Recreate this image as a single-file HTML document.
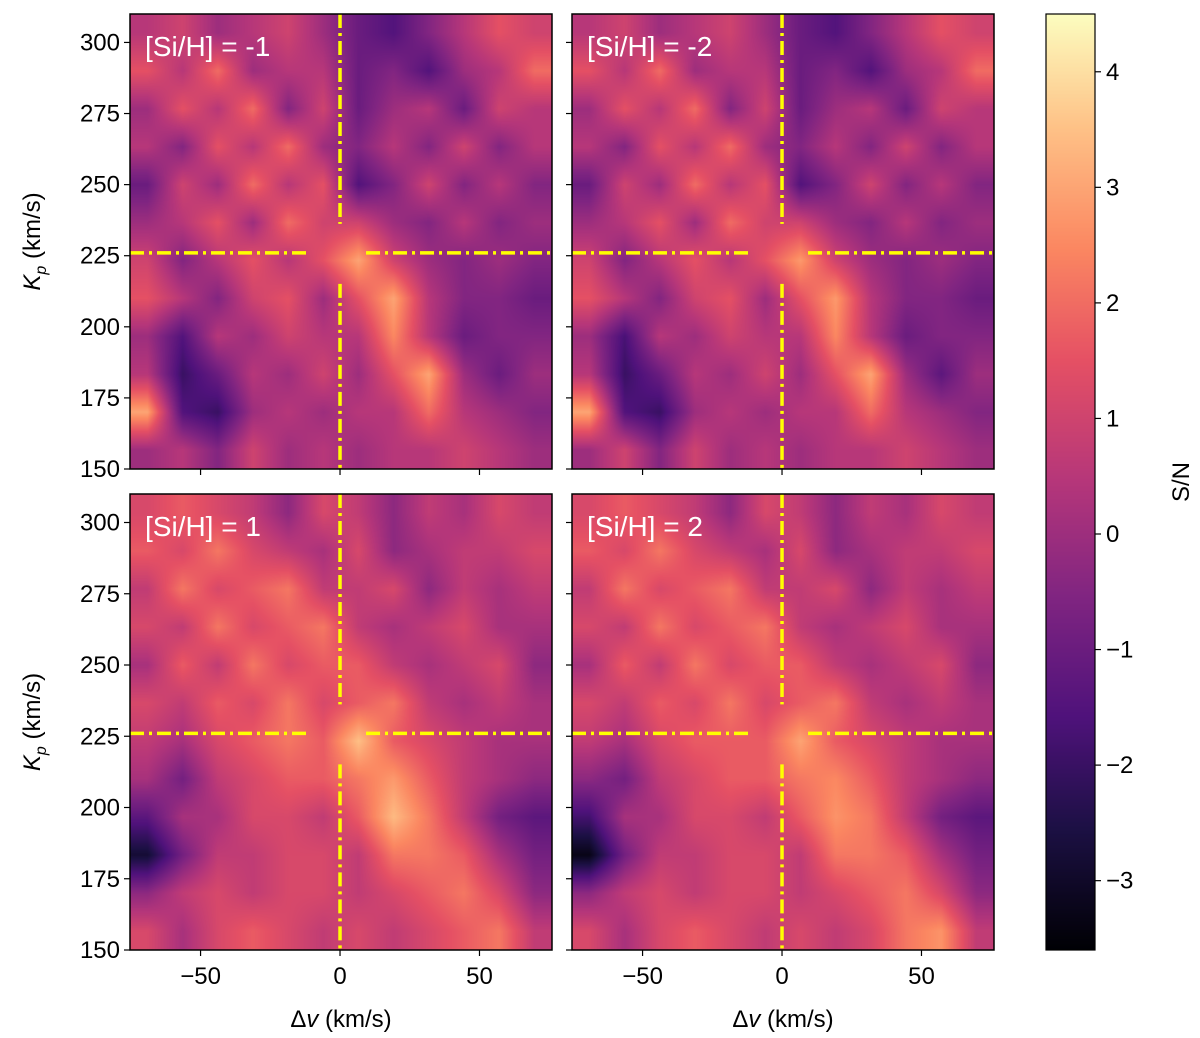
<!DOCTYPE html>
<html><head><meta charset="utf-8">
<style>
body{margin:0;width:1200px;height:1038px;background:#fff;position:relative;overflow:hidden;font-family:"Liberation Sans","DejaVu Sans",sans-serif}
canvas{position:absolute}
svg{position:absolute;left:0;top:0}
</style></head>
<body>
<canvas id="c0" width="422" height="455" style="left:130px;top:14px"></canvas>
<canvas id="c1" width="422" height="455" style="left:572px;top:14px"></canvas>
<canvas id="c2" width="422" height="456" style="left:130px;top:494px"></canvas>
<canvas id="c3" width="422" height="456" style="left:572px;top:494px"></canvas>
<canvas id="cb" width="49" height="936" style="left:1046px;top:14px"></canvas>
<svg id="ov" width="1200" height="1038"></svg>
<script>
const xDomain=[-75.3,76];
const yDomain=[150,310];
const cDomain=[-3.6,4.5];
const xTicks=[-50,0,50];
const yTicks=[150,175,200,225,250,275,300];
const cTicks=[-3,-2,-1,0,1,2,3,4];
const panelLabels=["[Si/H] = -1","[Si/H] = -2","[Si/H] = 1","[Si/H] = 2"];
const markerV=0, markerKp=226;
const gridTL=[
[0.5,1,0,0.5,1,0,-1,-1.5,-0.5,0.5,1.5,1],
[1.5,0.5,2,0,0.5,0.5,-1,-0.5,-1.5,0,0.5,2],
[0,1.5,0.5,2,-0.5,1,-1,0,0.5,-1,1,0.5],
[0.5,-0.5,1.5,0.5,2,0,-0.5,0.5,-0.5,1,-0.5,0.5],
[-1,1,0,2,0.5,1.5,-1.5,-0.5,1,-0.5,0.5,-0.5],
[0,0.5,1.5,0,2,1,1,0,-0.5,0.5,-0.5,0],
[1,-0.5,0.5,1.5,0.5,1.5,3,1,0,-0.5,0,-0.5],
[1.5,0.5,-0.5,1,1.5,0,1.5,3,0.5,-0.5,-0.5,-1],
[0,-1.5,0.5,0,1,0.5,0.5,2.5,0.5,-1,-0.5,-0.5],
[0.5,-2,-1,0.5,0,1,0,1.5,3,0,-1,0],
[3,-1.5,-2,0,0.5,0,0.5,0.5,2,0.5,0,-0.5],
[0,0.5,-0.5,1,0,0.5,0,0.5,0.5,1,0.5,0]];
const gridTR=[
[0.5,1,0,0.5,1,0,-1,-1.5,-0.5,0.5,1.5,1],
[1.5,0.5,2,0,0.5,0.5,-1,-0.5,-1.5,0,0.5,2],
[0,1.5,0.5,2,-0.5,1,-1,0,0.5,-1,1,0.5],
[0.5,-0.5,1.5,0.5,2,0,-0.5,0.5,-0.5,1,-0.5,0.5],
[-1,1,0,2,0.5,1.5,-1.5,-0.5,1,-0.5,0.5,-0.5],
[0,0.5,1.5,0,2,1,1,0,-0.5,0.5,-0.5,0],
[1,-0.5,0.5,1.5,0.5,1.5,2.8,1,0,-0.5,0,-0.5],
[1.5,0.5,-0.5,1,1.5,0,1.5,2.8,0.5,-0.5,-0.5,-1],
[0,-1.7,0.5,0,1,0.5,0.5,2.5,0.5,-1,-0.5,-0.5],
[0.5,-2,-1,0.5,0,1,0,1.5,3,0,-1.3,0],
[3,-1.5,-2,0,0.5,0,0.5,0.5,2,0.5,0,-0.5],
[0,1,-0.5,1,0,0.5,0,0.5,0.5,1,0.5,0]];
const gridBL=[
[1.2,1.7,1.2,0.7,-0.3,1.2,0.7,-0.3,0.7,0.2,1.2,0.7],
[1.7,1.2,2.2,1.2,0.7,0.2,1.2,-0.3,0.2,0.7,0.7,1.2],
[0.7,2.2,1.2,1.7,2.2,0.7,0.7,1.2,-0.3,0.7,0.2,0.7],
[1.2,0.7,2.2,1.2,1.7,2.2,0.7,0.2,0.7,1.2,0.2,0.2],
[0.2,1.7,0.7,2.2,1.2,1.7,1.7,0.7,0.2,0.7,1.2,-0.3],
[1.2,0.7,1.7,1.2,2.2,1.2,1.7,2.2,0.7,0.2,0.7,0.2],
[0.7,0.2,1.2,1.7,2.2,1.7,3.5,1.7,1.2,0.7,0.2,0.2],
[0.2,-0.8,0.7,1.2,1.7,1.7,2.2,2.8,1.7,0.7,0.2,-0.3],
[-1.3,0.2,0.2,1.2,1.2,0.7,1.7,3.4,2.2,0.7,-0.8,-1.3],
[-2.8,-0.8,0.7,0.7,1.2,1.2,0.7,2.2,2.2,1.7,0.2,-0.8],
[-0.3,0.7,1.2,0.7,1.2,1.2,0.7,1.2,1.7,2.2,1.2,-0.3],
[1.2,0.2,1.2,1.7,1.2,0.7,1.2,0.7,1.2,1.7,2.2,0.7]];
const gridBR=[
[1.2,1.7,1.2,0.7,-0.3,1.2,0.7,-0.3,0.7,0.2,1.2,0.7],
[1.7,1.2,2.2,1.2,0.7,0.2,1.2,-0.3,0.2,0.7,0.7,1.2],
[0.7,2.2,1.2,1.7,2.2,0.7,0.7,1.2,-0.3,0.7,0.2,0.7],
[1.2,0.7,2.2,1.2,1.7,2.2,0.7,0.2,0.7,1.2,0.2,0.2],
[0.2,1.7,0.7,2.2,1.2,1.7,1.7,0.7,0.2,0.7,1.2,-0.3],
[1.2,0.7,1.7,1.2,2.2,1.2,1.7,2.2,0.7,0.2,0.7,0.2],
[0.7,0.2,1.2,1.7,1.7,1.7,3,1.7,1.2,0.7,0.2,0.2],
[-0.3,-0.8,0.7,1.2,1.7,1.7,2.2,2.5,1.7,0.7,0.2,-0.3],
[-1.8,0.2,0.2,1.2,1.2,0.7,1.7,2.7,2.2,0.7,-0.8,-1.3],
[-3.3,-0.8,0.7,0.7,1.2,1.2,0.7,2.2,2.2,1.7,0.2,-0.8],
[-0.3,0.7,1.2,0.7,1.2,1.2,0.7,1.2,1.7,2.2,1.2,-0.3],
[1.2,0.2,1.2,1.7,1.2,0.7,1.2,0.7,1.2,2.2,2.7,0.7]];
const grids=[gridTL,gridTR,gridBL,gridBR];

const panels=[{x:130,y:14,w:422,h:455},{x:572,y:14,w:422,h:455},{x:130,y:494,w:422,h:456},{x:572,y:494,w:422,h:456}];
const mag=[[0,0,0,4],[0.13,28,16,68],[0.25,79,18,123],[0.38,129,37,129],[0.5,181,54,122],[0.63,229,80,100],[0.75,251,135,97],[0.88,254,194,135],[1,252,253,191]];
function cmap(v){let t=(v-cDomain[0])/(cDomain[1]-cDomain[0]);t=Math.max(0,Math.min(1,t));
 for(let i=1;i<mag.length;i++){if(t<=mag[i][0]){const a=mag[i-1],b=mag[i],f=(t-a[0])/(b[0]-a[0]);return [a[1]+f*(b[1]-a[1]),a[2]+f*(b[2]-a[2]),a[3]+f*(b[3]-a[3])];}}return mag[8].slice(1);}
function drawHeat(id,g){const c=document.getElementById(id),ctx=c.getContext('2d'),W=c.width,H=c.height;
 const img=ctx.createImageData(W,H),R=g.length,C=g[0].length;
 for(let y=0;y<H;y++){const gy=Math.min(R-1.0001,Math.max(0,(y+0.5)/H*R-0.5));const r0=Math.floor(gy),fy=gy-r0;
  for(let x=0;x<W;x++){const gx=Math.min(C-1.0001,Math.max(0,(x+0.5)/W*C-0.5));const c0=Math.floor(gx),fx=gx-c0;
   const v=(g[r0][c0]*(1-fx)+g[r0][c0+1]*fx)*(1-fy)+(g[r0+1][c0]*(1-fx)+g[r0+1][c0+1]*fx)*fy;
   const col=cmap(v),k=(y*W+x)*4;img.data[k]=col[0];img.data[k+1]=col[1];img.data[k+2]=col[2];img.data[k+3]=255;}}
 ctx.putImageData(img,0,0);}
grids.forEach((g,i)=>drawHeat('c'+i,g));
(function(){const c=document.getElementById('cb'),ctx=c.getContext('2d');for(let y=0;y<c.height;y++){const v=cDomain[1]-(y/c.height)*(cDomain[1]-cDomain[0]);const col=cmap(v);ctx.fillStyle=`rgb(${col.map(Math.round).join(',')})`;ctx.fillRect(0,y,49,1);}})();

const NS='http://www.w3.org/2000/svg',ov=document.getElementById('ov');
function el(t,a,txt){const e=document.createElementNS(NS,t);for(const k in a)e.setAttribute(k,a[k]);if(txt!==undefined)e.textContent=txt;ov.appendChild(e);return e;}
const FS=24;
panels.forEach((p,i)=>{
 const sx=v=>p.x+(v-xDomain[0])/(xDomain[1]-xDomain[0])*p.w;
 const sy=v=>p.y+p.h-(v-yDomain[0])/(yDomain[1]-yDomain[0])*p.h;
 const X0=sx(markerV),Y0=sy(markerKp);
 const dash='14 5 3 5';
 let e;
 e=el('line',{x1:X0,y1:p.y,x2:X0,y2:Y0-29,stroke:'#ffff00','stroke-width':3.5,'stroke-dasharray':dash});
 
 e=el('line',{x1:X0,y1:Y0+31,x2:X0,y2:p.y+p.h,stroke:'#ffff00','stroke-width':3.5,'stroke-dasharray':dash});
 
 e=el('line',{x1:p.x,y1:Y0,x2:X0-31,y2:Y0,stroke:'#ffff00','stroke-width':3.5,'stroke-dasharray':dash});
 
 e=el('line',{x1:X0+26,y1:Y0,x2:p.x+p.w,y2:Y0,stroke:'#ffff00','stroke-width':3.5,'stroke-dasharray':dash});
 
 e=el('rect',{x:p.x,y:p.y,width:p.w,height:p.h,fill:'none',stroke:'#000','stroke-width':1.5});
 
 e=el('text',{x:p.x+15,y:p.y+42,fill:'#fff','font-size':28},panelLabels[i]);
 
 yTicks.forEach(t=>{const y=sy(t);
  e=el('line',{x1:p.x-6,y1:y,x2:p.x,y2:y,stroke:'#000','stroke-width':1.2});
  
  if(i%2===0){e=el('text',{x:p.x-10,y:y+8,'text-anchor':'end','font-size':FS},t);
   }});
 xTicks.forEach(t=>{const x=sx(t);
  e=el('line',{x1:x,y1:p.y+p.h,x2:x,y2:p.y+p.h+6,stroke:'#000','stroke-width':1.2});
  
  if(i>=2){e=el('text',{x:x,y:p.y+p.h+34,'text-anchor':'middle','font-size':FS},(t<0?'\u2212':'')+Math.abs(t));
   }});
 if(i>=2){e=el('text',{x:p.x+p.w/2,y:1027,'text-anchor':'middle','font-size':FS});
  e.innerHTML='\u0394<tspan font-style="italic">v</tspan> (km/s)';
  }
 if(i%2===0){const cy=p.y+p.h/2;e=el('text',{x:0,y:0,'text-anchor':'middle','font-size':FS,transform:`translate(40,${cy}) rotate(-90)`});
  e.innerHTML='<tspan font-style="italic">K</tspan><tspan font-style="italic" font-size="16" dy="6">p</tspan><tspan dy="-6"> (km/s)</tspan>';
  }
});
let e=el('rect',{x:1046,y:14,width:49,height:936,fill:'none',stroke:'#000','stroke-width':1.2});

cTicks.forEach(t=>{const y=14+(cDomain[1]-t)/(cDomain[1]-cDomain[0])*936;
 e=el('line',{x1:1095,y1:y,x2:1101,y2:y,stroke:'#000','stroke-width':1.2});
 
 e=el('text',{x:1106,y:y+8,'font-size':FS},(t<0?'\u2212':'')+Math.abs(t));
 });
e=el('text',{x:0,y:0,'text-anchor':'middle','font-size':FS,transform:'translate(1189,482) rotate(-90)'},'S/N');

</script>
</body></html>
